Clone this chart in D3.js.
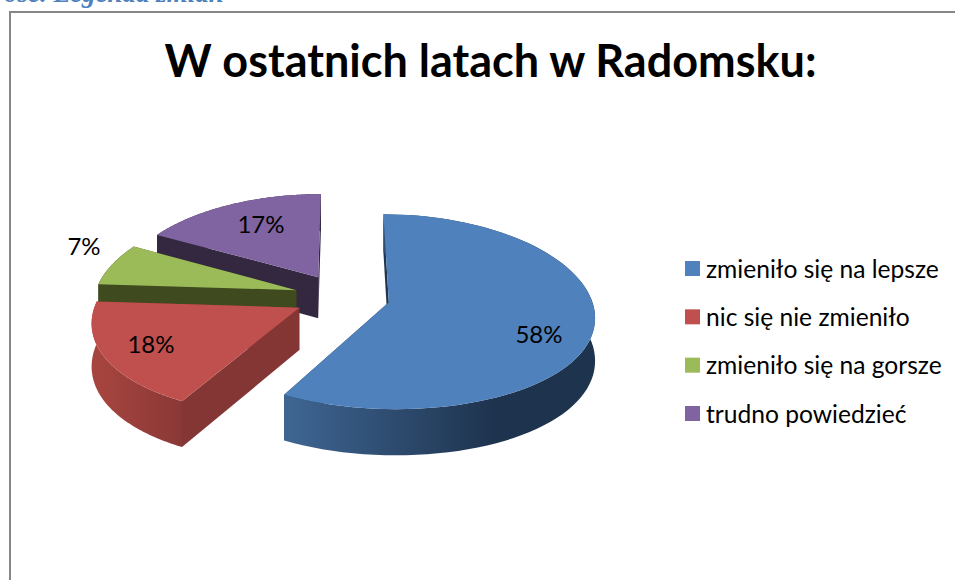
<!DOCTYPE html>
<html><head><meta charset="utf-8">
<script src="https://cdn.jsdelivr.net/npm/d3@7/dist/d3.min.js"></script>
<style>html,body{margin:0;padding:0;background:#fff;overflow:hidden}svg{display:block}text{font-family:Lato,Carlito,sans-serif}</style>
</head><body><svg id="c" width="955" height="580"></svg>
<script>
const categories=["zmieniło się na lepsze","nic się nie zmieniło","zmieniło się na gorsze","trudno powiedzieć"];
const values=[58,18,7,17];
const topColors=["#4f81bd","#c0504d","#9bbb59","#8064a2"];
const sideDark=["#1f3550","#843634","#3f4a1f","#332840"];
const outerLeft=["#3f6693","#a8453f","#3f4a1f","#332840"];
const outerRight=["#1e334e","#8a3836","#3f4a1f","#332840"];
const labelPos=[[539,333],[151,343],[84,245],[261,223]];
const titleText="W ostatnich latach w Radomsku:";
const headingText="ość. Legenda zmian";

const svg=d3.select("#c"),defs=svg.append("defs");
const CX=342,CY=296.5,R=202,RK=96.8,Px=0.13,PyB=0.115,PyF=0.085,E=48,H=42;
const proj=(u,v)=>{
  const sx=1/(1-Px*v),sy=1/(1-(v<0?PyB:PyF)*v);
  return [CX+R*u*sx,CY+RK*v*sy,sy];
};
const pie=d3.pie().sort(null).value(d=>d)(values);
const arcPts=(d,n=80)=>d3.range(n+1).map(i=>d.startAngle+(d.endAngle-d.startAngle)*i/n);
const line=d3.line();

svg.append("text").attr("x",4).attr("y",2).attr("font-size",27).attr("font-style","italic").attr("font-weight",700).attr("fill","#4f81bd").style("font-family","'Liberation Serif',serif").text(headingText);
svg.append("path").attr("d","M955,12H10V580").attr("fill","none").attr("stroke","#868686").attr("stroke-width",2);

const order=[3,2,1,0];
order.forEach(i=>{
  const d=pie[i],mid=(d.startAngle+d.endAngle)/2;
  const ou=Math.sin(mid)*E/R,ov=-Math.cos(mid)*E/R;
  const at=a=>proj(ou+Math.sin(a),ov-Math.cos(a));
  const ap=proj(ou,ov),angles=arcPts(d),rim=angles.map(at);
  const drop=p=>[p[0],p[1]+H*p[2]];
  const gid="g"+i;
  const g=defs.append("linearGradient").attr("id",gid).attr("gradientUnits","userSpaceOnUse")
    .attr("x1",d3.min(rim,p=>p[0])).attr("x2",i===0?d3.min(rim,p=>p[0])+210:d3.max(rim,p=>p[0])).attr("y1",0).attr("y2",0);
  g.append("stop").attr("offset",0).attr("stop-color",outerLeft[i]);
  g.append("stop").attr("offset",1).attr("stop-color",outerRight[i]);
  [rim[0],rim[rim.length-1]].forEach(e=>{
    svg.append("path").attr("d",line([[ap[0],ap[1]],[e[0],e[1]],drop(e),drop(ap)])+"Z").attr("fill",sideDark[i]);
  });
  const outer=rim.map(p=>[p[0],p[1]]).concat(rim.slice().reverse().map(drop));
  svg.append("path").attr("d",line(outer)+"Z").attr("fill",`url(#${gid})`);
  svg.append("path").attr("d",line([[ap[0],ap[1]],...rim.map(p=>[p[0],p[1]])])+"Z").attr("fill",topColors[i]);
});

categories.forEach((c,i)=>{
  svg.append("text").attr("x",labelPos[i][0]).attr("y",labelPos[i][1]).attr("text-anchor","middle").attr("dominant-baseline","central").attr("font-size",24).attr("fill","#000").text(values[i]+"%");
});
svg.append("text").attr("x",490.5).attr("y",77).attr("text-anchor","middle").attr("font-size",45).attr("font-weight",700).attr("fill","#000").text(titleText);
const ly=d3.scalePoint().domain(categories).range([268.5,413.5]);
categories.forEach((c,i)=>{
  const y=ly(c);
  svg.append("rect").attr("x",685).attr("y",y-7.5).attr("width",15).attr("height",15).attr("fill",topColors[i]);
  svg.append("text").attr("x",706).attr("y",y-0.5).attr("dominant-baseline","central").attr("font-size",24.6).attr("fill","#000").text(c);
});
</script></body></html>
